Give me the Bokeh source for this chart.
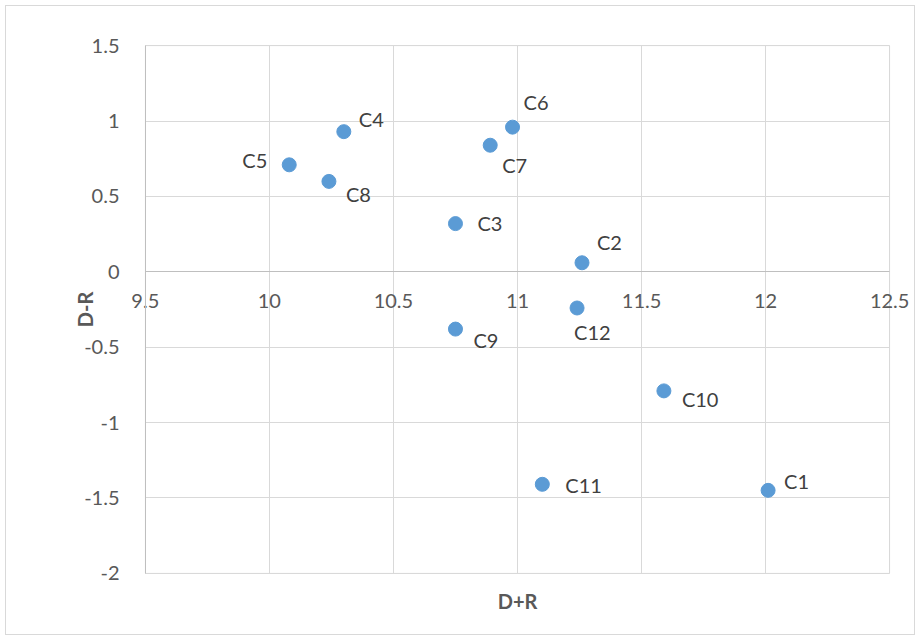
from bokeh.plotting import figure
from bokeh.models import ColumnDataSource, FixedTicker, Title, BoxAnnotation, LinearAxis
from bokeh.core.properties import value
from bokeh.embed import file_html
from bokeh.resources import INLINE

# --- data ---
names = ["C1", "C2", "C3", "C4", "C5", "C6", "C7", "C8", "C9", "C10", "C11", "C12"]
d_plus_r = [12.01, 11.26, 10.75, 10.30, 10.08, 10.98, 10.89, 10.24, 10.75, 11.59, 11.10, 11.24]
d_minus_r = [-1.45, 0.06, 0.32, 0.93, 0.71, 0.96, 0.84, 0.60, -0.38, -0.79, -1.41, -0.24]

x_ticks = [9.5, 10, 10.5, 11, 11.5, 12, 12.5]
x_tick_labels = ["9.5", "10", "10.5", "11", "11.5", "12", "12.5"]
y_ticks = [-2, -1.5, -1, -0.5, 0, 0.5, 1, 1.5]
y_tick_labels = ["-2", "-1.5", "-1", "-0.5", "0", "0.5", "1", "1.5"]
x_min, x_max = 9.5, 12.5
y_min, y_max = -2, 1.5
x_axis_crossing = 0   # x axis crosses at D-R = 0

# label placement (screen offsets, px)
label_dx = [16, 15, 22, 15, -22, 11, 12, 17, 18, 18, 23, -3]
label_dy = [-9, -21, -1, -13, -5, -25, 20, 13, 11, 8, 1, 24]
label_align = ["left"] * 4 + ["right"] + ["left"] * 7

FONT = "Lato"
FS = "20px"
GRID = "#d9d9d9"
AXIS = "#bfbfbf"
TICK_COLOR = "#595959"
PAD_X, PAD_Y = 0.1, 0.015   # room so the end tick labels are not clipped

src = ColumnDataSource(dict(x=d_plus_r, y=d_minus_r, name=names,
                            dx=label_dx, dy=label_dy, align=label_align))

p = figure(width=910, height=630, output_backend="svg", toolbar_location=None,
           x_range=(x_min - PAD_X, x_max + PAD_X), y_range=(y_min - PAD_Y, y_max + PAD_Y),
           min_border_left=114, min_border_right=2,
           min_border_top=37, min_border_bottom=61)
p.margin = (5, 5, 5, 5)
p.styles = {"border": "1px solid #d9d9d9"}
p.background_fill_color = "white"
p.border_fill_color = "white"
p.outline_line_color = None

# axes
p.xaxis.ticker = FixedTicker(ticks=x_ticks)
p.yaxis.ticker = FixedTicker(ticks=y_ticks)
p.xaxis.major_label_overrides = dict(zip(x_ticks, x_tick_labels))
p.yaxis.major_label_overrides = dict(zip(y_ticks, y_tick_labels))
p.xaxis.fixed_location = x_axis_crossing
p.xaxis.bounds = (x_min, x_max)
for ax in (p.xaxis, p.yaxis):
    ax.major_tick_line_color = None
    ax.minor_tick_line_color = None
    ax.major_label_text_font = FONT
    ax.major_label_text_font_size = FS
    ax.major_label_text_color = TICK_COLOR
p.xaxis.axis_line_color = AXIS
p.yaxis.axis_line_color = None
p.yaxis.major_tick_out = 0
p.yaxis.minor_tick_out = 0
p.xaxis.major_label_standoff = 16
p.yaxis.major_label_standoff = 1
p.yaxis.axis_label = "D-R"
p.yaxis.axis_label_text_font = FONT
p.yaxis.axis_label_text_font_size = FS
p.yaxis.axis_label_text_font_style = "bold"
p.yaxis.axis_label_text_color = TICK_COLOR
p.yaxis.axis_label_standoff = -16

# vertical axis line along the left edge of the plot area
p.add_layout(LinearAxis(fixed_location=x_min, bounds=(y_min, y_max),
                        ticker=FixedTicker(ticks=[]), axis_line_color=AXIS,
                        major_tick_line_color=None, minor_tick_line_color=None,
                        major_tick_out=0, minor_tick_out=0,
                        major_label_text_font_size="0px"), "left")

p.add_layout(Title(text="D+R", align="center", text_font=FONT, text_font_size=FS,
                   text_font_style="bold", text_color=TICK_COLOR, standoff=23), "below")

p.xgrid.grid_line_color = GRID
p.ygrid.grid_line_color = GRID
p.xgrid.cross_bounds = (y_min, y_max)
p.ygrid.cross_bounds = (x_min, x_max)

# plot-area border
p.add_layout(BoxAnnotation(left=x_min, right=x_max, bottom=y_min, top=y_max,
                           fill_color=None, line_color=GRID, line_width=1,
                           level="underlay"))

p.scatter("x", "y", source=src, size=14, color="#5b9bd5")
p.text("x", "y", text="name", source=src, x_offset="dx", y_offset="dy",
       text_align="align", text_baseline="middle",
       text_font=value(FONT), text_font_size=FS, text_color="#404040")

open("out.html", "w").write(file_html(p, INLINE))
